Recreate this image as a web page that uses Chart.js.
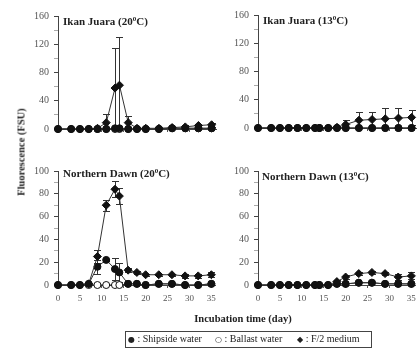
<!DOCTYPE html>
<html>
<head>
<meta charset="utf-8">
<script src="https://cdn.jsdelivr.net/npm/chart.js@4"></script>
<style>
  html, body { margin: 0; padding: 0; background: #fff; }
  body { width: 417px; height: 348px; overflow: hidden; position: relative; font-family: "Liberation Serif", serif; color: #222; }
  canvas { position: absolute; }
  .ttl { position: absolute; font-weight: bold; font-size: 11px; line-height: 12px; white-space: nowrap; }
  .ttl sup { font-size: 7px; vertical-align: 4px; line-height: 0; }
  .axt { position: absolute; font-weight: bold; font-size: 10.5px; white-space: nowrap; transform: translate(-50%, -50%); }
  #legend { position: absolute; left: 125px; top: 331px; width: 245px; height: 15px; border: 1px solid #444; font-size: 10px; }
  #legend span { position: absolute; top: 1px; white-space: nowrap; }
  .sym { font-family: "DejaVu Sans", sans-serif; font-size: 8px; }
</style>
</head>
<body>
<canvas id="c1" width="221" height="140" style="left:0;top:0"></canvas>
<canvas id="c2" width="221" height="140" style="left:200px;top:-1px"></canvas>
<canvas id="c3" width="221" height="165" style="left:0;top:150px"></canvas>
<canvas id="c4" width="221" height="165" style="left:200px;top:150px"></canvas>

<div class="ttl" style="left:63px;top:15px">Ikan Juara (20<sup>0</sup>C)</div>
<div class="ttl" style="left:263px;top:14px">Ikan Juara (13<sup>0</sup>C)</div>
<div class="ttl" style="left:63px;top:167px">Northern Dawn (20<sup>0</sup>C)</div>
<div class="ttl" style="left:262px;top:170px">Northern Dawn (13<sup>0</sup>C)</div>

<div class="axt" style="left:21px;top:152px;transform:translate(-50%,-50%) rotate(-90deg)">Fluorescence (FSU)</div>
<div class="axt" style="left:243px;top:318px">Incubation time (day)</div>

<div id="legend">
  <span style="left:2px"><span class="sym" style="position:static">●</span> : Shipside water</span>
  <span style="left:89px"><span class="sym" style="position:static">○</span> : Ballast water</span>
  <span style="left:171px"><span class="sym" style="position:static">◆</span> : F/2 medium</span>
</div>

<script>
// sampling days (same for all four panels)
const days = [0, 3, 5, 7, 9, 11, 13, 14, 16, 18, 20, 23, 26, 29, 32, 35];

// Ikan Juara, 20 C
const ij20Ship    = [0, 0, 0, 0, 0, 0, 1, 1, 0, 0, 0, 0, 1, 1, 1, 1];
const ij20Ballast = [0, 0, 0, 0, 0, 0, 0, 0, 0, 0, 0, 0, 1, 1, 1, 1];
const ij20F2      = [0, 0, 0, 0, 1, 9, 58, 62, 9, 1, 1, 1, 2, 3, 5, 6];
const ij20F2Err   = [0, 0, 0, 0, 0, 12, 56, 68, 10, 0, 0, 0, 1, 2, 2, 3];

// Ikan Juara, 13 C
const ij13Ship    = [0, 0, 0, 0, 0, 0, 0, 0, 0, 0, 0, 0, 0, 0, 0, 0];
const ij13Ballast = [0, 0, 0, 0, 0, 0, 0, 0, 0, 0, 0, 0, 0, 0, 0, 0];
const ij13F2      = [0, 0, 0, 0, 0, 0, 0, 0, 0, 1, 5, 11, 12, 13, 14, 15];
const ij13F2Err   = [0, 0, 0, 0, 0, 0, 0, 0, 0, 0, 6, 11, 10, 15, 14, 11];

// Northern Dawn, 20 C
const nd20Ship    = [0, 0, 0, 1, 16, 22, 14, 11, 1, 1, 0, 1, 1, 0, 0, 1];
const nd20ShipErr = [0, 0, 0, 0, 6, 1, 10, 8, 1, 0, 0, 1, 1, 0, 0, 1];
const nd20Ballast = [0, 0, 0, 0, 0, 0, 0, 0, 1, 1, 0, 1, 1, 0, 0, 1];
const nd20F2      = [0, 0, 0, 1, 25, 70, 84, 78, 13, 11, 9, 9, 9, 8, 8, 9];
const nd20F2Err   = [0, 0, 0, 0, 6, 5, 7, 7, 2, 1, 1, 1, 1, 2, 2, 2];

// Northern Dawn, 13 C
const nd13Ship    = [0, 0, 0, 0, 0, 0, 0, 0, 0, 1, 1, 2, 2, 1, 1, 1];
const nd13Ballast = [0, 0, 0, 0, 0, 0, 0, 0, 0, 1, 1, 2, 2, 1, 1, 1];
const nd13F2      = [0, 0, 0, 0, 0, 0, 0, 0, 0, 3, 7, 10, 11, 10, 7, 8];
const nd13F2Err   = [0, 0, 0, 0, 0, 0, 0, 0, 0, 1, 2, 1, 1, 1, 3, 3];

const xTicks = [0, 5, 10, 15, 20, 25, 30, 35];

// vertical error bars, drawn under the markers
const errorBars = {
    id: 'errorBars',
    beforeDatasetsDraw(chart) {
        const ctx = chart.ctx;
        const ys = chart.scales.y;
        ctx.save();
        ctx.strokeStyle = '#333';
        ctx.lineWidth = 1;
        chart.data.datasets.forEach((ds, i) => {
            if (!ds.errors) return;
            chart.getDatasetMeta(i).data.forEach((pt, j) => {
                const e = ds.errors[j];
                if (!e) return;
                const v = ds.data[j].y;
                const x = Math.round(pt.x) + 0.5;
                const top = Math.round(ys.getPixelForValue(v + e)) + 0.5;
                const low = Math.max(0, v - e);
                const bot = Math.round(ys.getPixelForValue(low)) + 0.5;
                ctx.beginPath();
                ctx.moveTo(x, top); ctx.lineTo(x, bot);
                ctx.moveTo(x - 3.5, top); ctx.lineTo(x + 3.5, top);
                if (low > 0) { ctx.moveTo(x - 3.5, bot); ctx.lineTo(x + 3.5, bot); }
                ctx.stroke();
            });
        });
        ctx.restore();
    }
};

function pts(vals) {
    return days.map((d, i) => ({ x: d, y: vals[i] }));
}

function series(vals, style, fill, order, errs) {
    return {
        data: pts(vals),
        errors: errs || null,
        borderColor: '#333',
        borderWidth: 1,
        pointStyle: style,
        pointRadius: style === 'rectRot' ? 4 : 3.5,
        pointBackgroundColor: fill,
        pointBorderColor: '#111',
        pointBorderWidth: 1,
        tension: 0,
        clip: false,
        order: order
    };
}

function panel(id, ymax, ystep, yLabelEvery, showX, ship, ballast, f2, shipErr, f2Err) {
    new Chart(document.getElementById(id), {
        type: 'line',
        data: {
            datasets: [
                series(f2, 'rectRot', '#111', 1, f2Err),
                series(ship, 'circle', '#111', 2, shipErr),
                series(ballast, 'circle', '#fff', 3, null)
            ]
        },
        options: {
            responsive: false,
            animation: false,
            devicePixelRatio: 1,
            layout: { padding: { top: showX ? 21 : 16, right: 0, left: 0, bottom: 0 } },
            plugins: { legend: { display: false }, tooltip: { enabled: false } },
            scales: {
                x: {
                    type: 'linear',
                    min: 0,
                    max: 36,
                    afterBuildTicks: s => { s.ticks = xTicks.map(v => ({ value: v })); },
                    afterFit: s => { s.height = showX ? 30 : 10; },
                    border: { display: true, color: '#444', width: 1 },
                    grid: { drawOnChartArea: false, drawTicks: true, tickLength: 3, tickColor: '#555' },
                    ticks: {
                        display: showX,
                        autoSkip: false,
                        maxRotation: 0,
                        padding: 5,
                        color: '#555',
                        font: { family: 'Liberation Serif', size: 9 }
                    }
                },
                y: {
                    min: 0,
                    max: ymax,
                    afterFit: s => { s.width = 58; },
                    border: { display: true, color: '#444', width: 1 },
                    grid: {
                        drawOnChartArea: false,
                        drawTicks: true,
                        tickLength: 4,
                        tickColor: ctx => (ctx.tick && ctx.tick.value % yLabelEvery === 0) ? '#444' : '#aaa'
                    },
                    ticks: {
                        stepSize: ystep,
                        autoSkip: false,
                        padding: 5,
                        color: '#555',
                        font: { family: 'Liberation Serif', size: 10 },
                        callback: v => (v % yLabelEvery === 0 ? v : '')
                    }
                }
            }
        },
        plugins: [errorBars]
    });
}

panel('c1', 160, 20, 40, false, ij20Ship, ij20Ballast, ij20F2, null, ij20F2Err);
panel('c2', 160, 20, 40, false, ij13Ship, ij13Ballast, ij13F2, null, ij13F2Err);
panel('c3', 100, 10, 20, true, nd20Ship, nd20Ballast, nd20F2, nd20ShipErr, nd20F2Err);
panel('c4', 100, 10, 20, true, nd13Ship, nd13Ballast, nd13F2, null, nd13F2Err);
</script>
</body>
</html>
